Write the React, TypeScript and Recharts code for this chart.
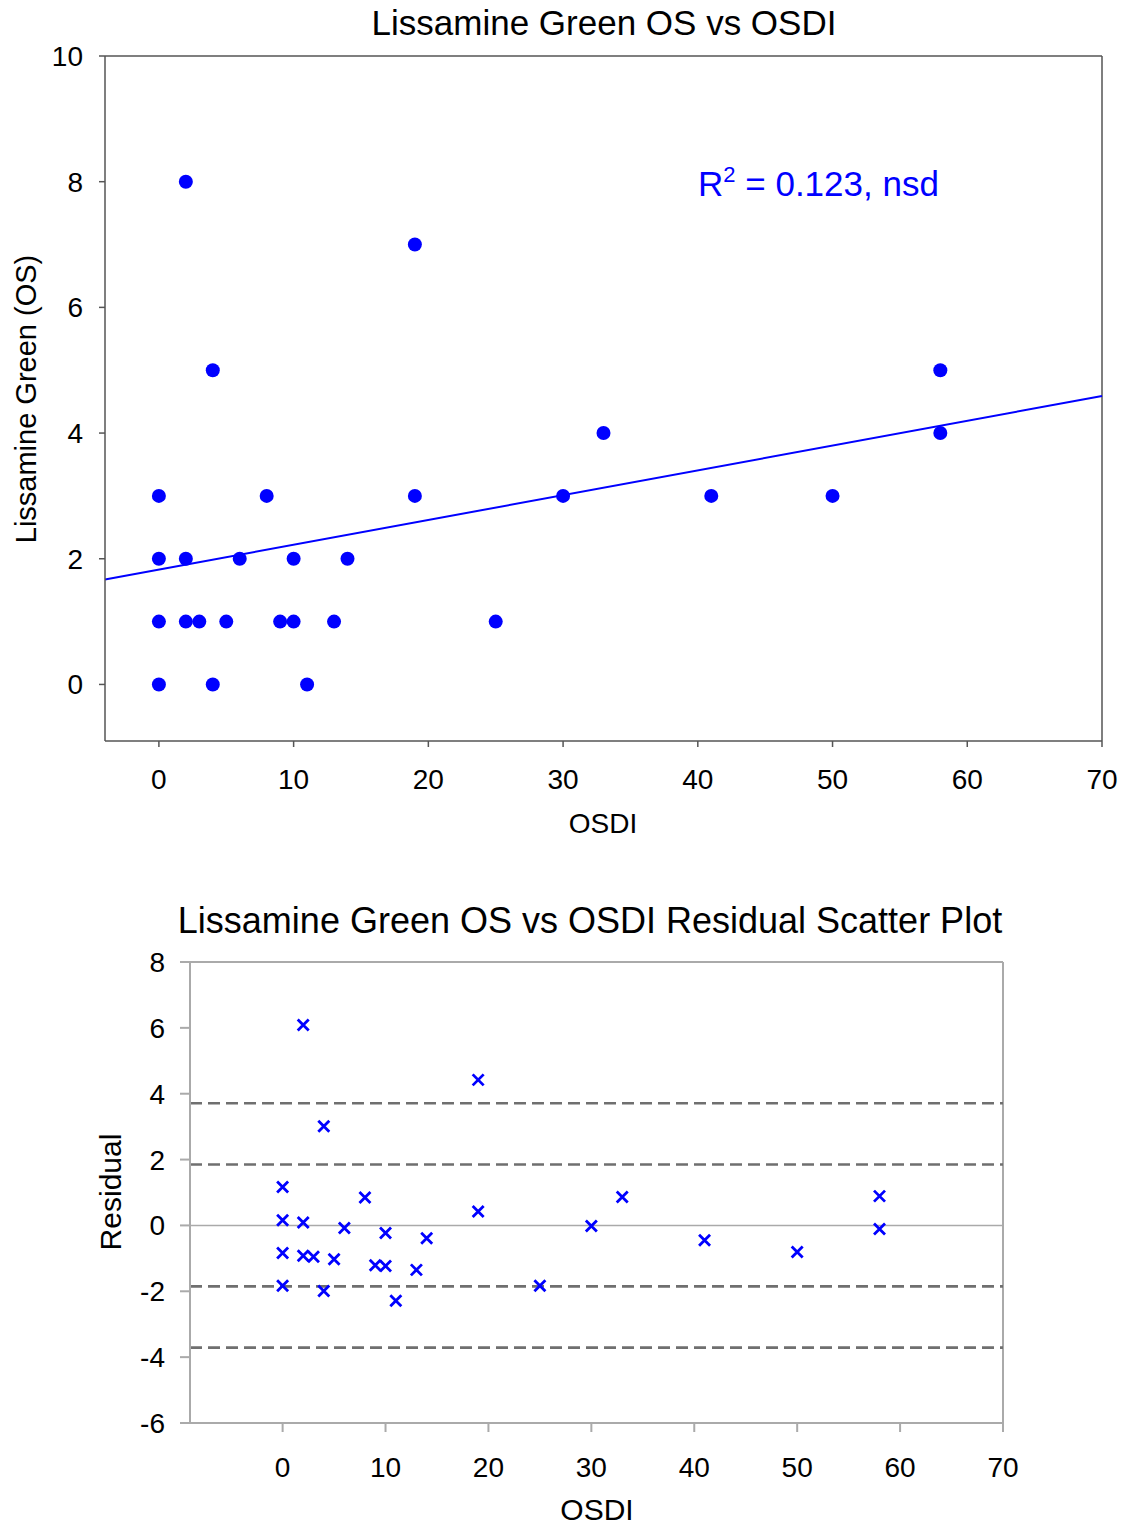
import React from 'react';
import { ScatterChart, Scatter, XAxis, YAxis, ReferenceLine, Customized } from 'recharts';

// ---- data ----
const osdi = [0, 0, 0, 0, 2, 2, 2, 3, 4, 4, 5, 6, 8, 9, 10, 10, 11, 13, 14, 19, 19, 25, 30, 33, 41, 50, 58, 58];
const lissamineOS = [0, 1, 2, 3, 8, 2, 1, 1, 5, 0, 1, 2, 3, 1, 2, 1, 0, 1, 2, 7, 3, 1, 3, 4, 3, 3, 5, 4];
const residuals = [
  -1.83, -0.84, 0.16, 1.17, 6.09, 0.09, -0.92, -0.95, 3.01, -1.99, -1.03, -0.08, 0.85, -1.21,
  -0.23, -1.23, -2.29, -1.35, -0.39, 4.42, 0.42, -1.83, -0.02, 0.86, -0.45, -0.81, 0.89, -0.11,
];
const fitX = [-4, 70];
const fitY = [1.67, 4.59];
const sdLines = [3.71, 1.85, -1.85, -3.71];

const topXTicks = [0, 10, 20, 30, 40, 50, 60, 70];
const topYTicks = [0, 2, 4, 6, 8, 10];
const botXTicks = [0, 10, 20, 30, 40, 50, 60, 70];
const botYTicks = [-6, -4, -2, 0, 2, 4, 6, 8];

const topData = osdi.map((x, i) => ({ x, y: lissamineOS[i] }));
const resData = osdi.map((x, i) => ({ x, y: residuals[i] }));

const FONT = '"Liberation Sans", Arial, Helvetica, sans-serif';
const BLUE = '#0000ff';

const Dot = (p: any) => <circle cx={p.cx} cy={p.cy} r={7} fill={BLUE} />;
const Cross = (p: any) => {
  const { cx, cy } = p;
  const s = 5.5;
  return (
    <path
      d={`M${cx - s},${cy - s}L${cx + s},${cy + s}M${cx + s},${cy - s}L${cx - s},${cy + s}`}
      stroke={BLUE}
      strokeWidth={2.8}
      fill="none"
    />
  );
};

const TopTexts = () => (
  <g fontFamily={FONT}>
    <text x={604} y={35} textAnchor="middle" fontSize={35} fill="#000">
      Lissamine Green OS vs OSDI
    </text>
    <text x={603} y={833} textAnchor="middle" fontSize={28} fill="#000">
      OSDI
    </text>
    <text
      x={36}
      y={399}
      textAnchor="middle"
      fontSize={29}
      fill="#000"
      transform="rotate(-90, 36, 399)"
    >
      Lissamine Green (OS)
    </text>
    <text x={698} y={196} fontSize={35} fill={BLUE}>
      R<tspan dy={-14} fontSize={22}>2</tspan>
      <tspan dy={14}> = 0.123, nsd</tspan>
    </text>
  </g>
);

const BottomTexts = () => (
  <g fontFamily={FONT}>
    <text x={590} y={73} textAnchor="middle" fontSize={36} fill="#000">
      Lissamine Green OS vs OSDI Residual Scatter Plot
    </text>
    <text x={597} y={660} textAnchor="middle" fontSize={30} fill="#000">
      OSDI
    </text>
    <text
      x={121}
      y={332}
      textAnchor="middle"
      fontSize={30}
      fill="#000"
      transform="rotate(-90, 121, 332)"
    >
      Residual
    </text>
  </g>
);

const tickStyle = { fill: '#000', fontSize: 28, fontFamily: FONT };

export default function App() {
  return (
    <div style={{ position: 'absolute', left: 0, top: 0, width: 1129, height: 1526, background: '#fff' }}>
      <ScatterChart width={1129} height={860} margin={{ top: 56, right: 27, left: 0, bottom: 59 }}>
        <XAxis
          type="number"
          dataKey="x"
          domain={[-4, 70]}
          ticks={topXTicks}
          allowDataOverflow
          height={60}
          tickSize={6}
          tickMargin={22}
          stroke="#555"
          axisLine={{ stroke: '#555', strokeWidth: 1.5 }}
          tickLine={{ stroke: '#555', strokeWidth: 1.5 }}
          tick={tickStyle}
        />
        <YAxis
          type="number"
          dataKey="y"
          domain={[-0.9, 10]}
          ticks={topYTicks}
          allowDataOverflow
          width={105}
          tickSize={6}
          tickMargin={16}
          stroke="#555"
          axisLine={{ stroke: '#555', strokeWidth: 1.5 }}
          tickLine={{ stroke: '#555', strokeWidth: 1.5 }}
          tick={tickStyle}
        />
        <ReferenceLine y={10} stroke="#555" strokeWidth={1.5} />
        <ReferenceLine x={70} stroke="#555" strokeWidth={1.5} />
        <ReferenceLine
          segment={[
            { x: fitX[0], y: fitY[0] },
            { x: fitX[1], y: fitY[1] },
          ]}
          stroke={BLUE}
          strokeWidth={2}
        />
        <Scatter data={topData} shape={Dot} isAnimationActive={false} />
        <Customized component={TopTexts} />
      </ScatterChart>

      <ScatterChart width={1129} height={666} margin={{ top: 102, right: 126, left: 0, bottom: 43 }}>
        <XAxis
          type="number"
          dataKey="x"
          domain={[-9, 70]}
          ticks={botXTicks}
          allowDataOverflow
          height={60}
          tickSize={9}
          tickMargin={25}
          stroke="#aaa"
          axisLine={{ stroke: '#aaa', strokeWidth: 2 }}
          tickLine={{ stroke: '#aaa', strokeWidth: 2 }}
          tick={tickStyle}
        />
        <YAxis
          type="number"
          dataKey="y"
          domain={[-6, 8]}
          ticks={botYTicks}
          allowDataOverflow
          width={190}
          tickSize={10}
          tickMargin={15}
          stroke="#aaa"
          axisLine={{ stroke: '#aaa', strokeWidth: 2 }}
          tickLine={{ stroke: '#aaa', strokeWidth: 2 }}
          tick={tickStyle}
        />
        <ReferenceLine y={8} stroke="#aaa" strokeWidth={2} />
        <ReferenceLine x={70} stroke="#aaa" strokeWidth={2} />
        <ReferenceLine y={0} stroke="#aaa" strokeWidth={1.5} />
        {sdLines.map((v) => (
          <ReferenceLine key={v} y={v} stroke="#6f6f6f" strokeWidth={2.6} strokeDasharray="12 6" />
        ))}
        <Scatter data={resData} shape={Cross} isAnimationActive={false} />
        <Customized component={BottomTexts} />
      </ScatterChart>
    </div>
  );
}
